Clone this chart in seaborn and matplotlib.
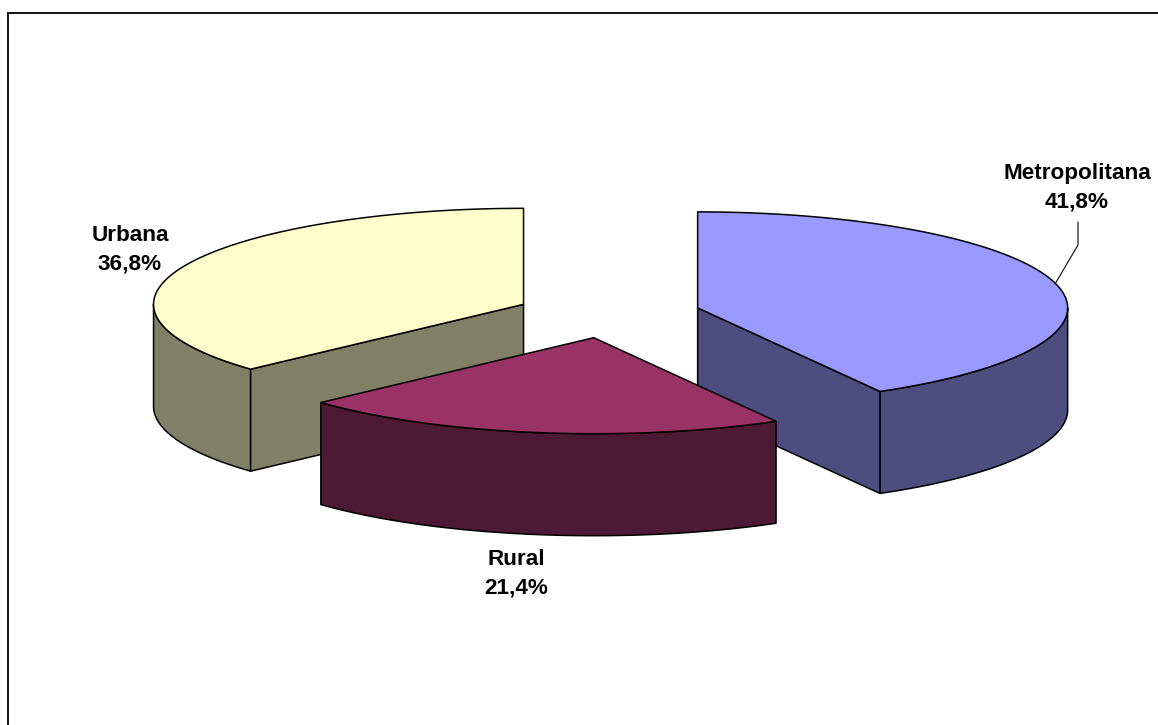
import numpy as np
import matplotlib
matplotlib.use("Agg")
import matplotlib.pyplot as plt
import seaborn as sns

categories = ["Metropolitana", "Rural", "Urbana"]
shares = [41.8, 21.4, 36.8]
top_colors = ["#9999FF", "#993366", "#FFFFCC"]
side_colors = ["#4D4D80", "#4D1A33", "#808066"]
explode = 0.25
label_xy = [(1077, 188), (516, 574), (130, 250)]

sns.set_theme(style="white")
plt.rcParams["font.family"] = ["Liberation Sans", "DejaVu Sans"]

W, H = 1158, 725
fig = plt.figure(figsize=(W / 100, H / 100), dpi=100, facecolor="white")
ax = fig.add_axes([0, 0, 1, 1])
ax.set_xlim(0, W)
ax.set_ylim(H, 0)
ax.axis("off")

CX, CY, A, B, DEPTH = 608.2, 314.0, 370.0, 96.0, 102.0
EDGE = dict(edgecolor="black", linewidth=1.1, joinstyle="round")


def rim(cx, cy, t0, t1, n=160):
    t = np.radians(np.linspace(t0, t1, n))
    return cx + A * np.sin(t), cy - B * np.cos(t)


bounds = np.concatenate([[0], np.cumsum(shares) / np.sum(shares) * 360])
slices = {}
for i, cat in enumerate(categories):
    t0, t1 = bounds[i], bounds[i + 1]
    mid = np.radians((t0 + t1) / 2)
    slices[cat] = (
        CX + explode * A * np.sin(mid),
        CY - explode * B * np.cos(mid),
        t0, t1, top_colors[i], side_colors[i],
    )


def wall_outer(cx, cy, t0, t1, color, z):
    x, y = rim(cx, cy, t0, t1)
    ax.fill(np.r_[x, x[::-1]], np.r_[y, y[::-1] + DEPTH], facecolor=color, zorder=z, **EDGE)


def wall_radial(cx, cy, t, color, z):
    x, y = rim(cx, cy, t, t, 1)
    ax.fill([cx, x[0], x[0], cx], [cy, y[0], y[0] + DEPTH, cy + DEPTH], facecolor=color, zorder=z, **EDGE)


def top(cx, cy, t0, t1, color, z):
    x, y = rim(cx, cy, t0, t1)
    ax.fill(np.r_[cx, x], np.r_[cy, y], facecolor=color, zorder=z, **EDGE)


# back to front: Urbana, Metropolitana, Rural
cx, cy, t0, t1, c, s = slices["Urbana"]
wall_outer(cx, cy, t0, 270, s, 1)
wall_radial(cx, cy, t0, s, 1)
top(cx, cy, t0, t1, c, 2)

cx, cy, t0, t1, c, s = slices["Metropolitana"]
wall_outer(cx, cy, 90, t1, s, 3)
wall_radial(cx, cy, t1, s, 3)
top(cx, cy, t0, t1, c, 4)

cx, cy, t0, t1, c, s = slices["Rural"]
wall_outer(cx, cy, t0, t1, s, 5)
top(cx, cy, t0, t1, c, 6)

# leader line of the Metropolitana label
ax.plot([1055, 1078, 1078], [284, 245, 222], color="#222222", lw=0.9, zorder=7)

for cat, share, (lx, ly) in zip(categories, shares, label_xy):
    txt = f"{cat}\n{share:.1f}%".replace(".", ",")
    ax.text(lx, ly, txt, ha="center", va="center", fontsize=16.2, fontweight="bold",
            color="black", linespacing=1.45, zorder=8)

# chart frame: only the top and left edges are visible
ax.plot([7.5, W], [13, 13], color="#111111", lw=1.4, zorder=9)
ax.plot([7.5, 7.5], [13, H], color="#111111", lw=1.4, zorder=9)

fig.savefig("out.png", dpi=100, facecolor="white")
